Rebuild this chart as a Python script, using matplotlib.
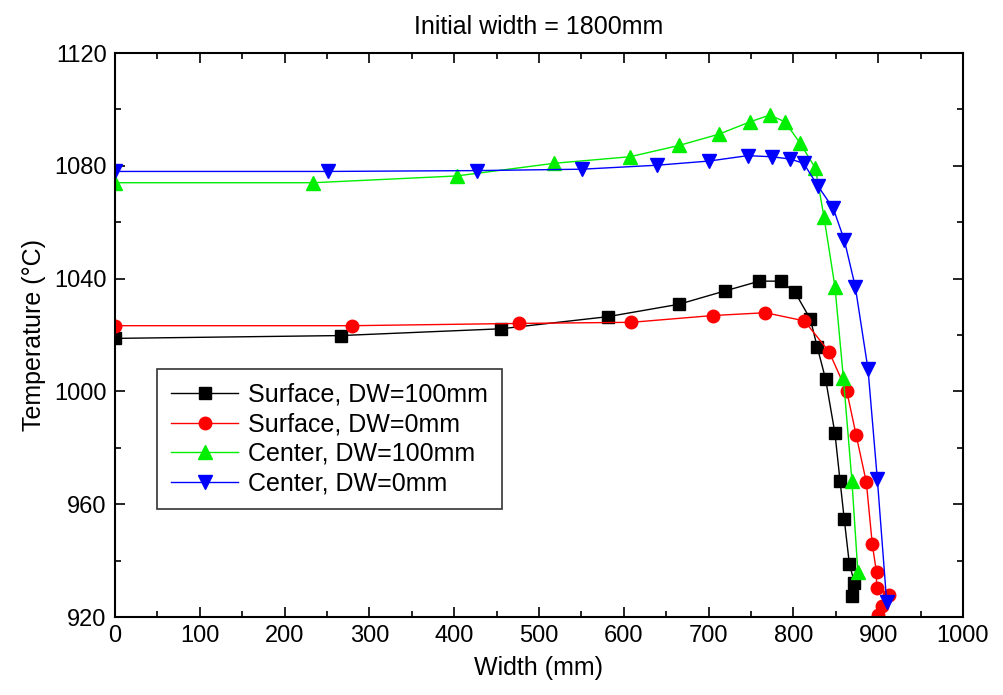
import matplotlib.pyplot as plt
from matplotlib.ticker import MultipleLocator

plt.rcParams['font.family'] = ['Liberation Sans', 'DejaVu Sans']

# Surface, DW=100mm
surf100_x = [0, 266, 455, 581, 665, 719, 760, 785, 802, 820, 828, 838, 849, 855, 860, 866, 872, 869]
surf100_y = [1018.8, 1019.8, 1022.2, 1026.5, 1030.9, 1035.6, 1039.1, 1039.1, 1035.1, 1025.6, 1015.9,
             1004.3, 985.1, 968.3, 954.6, 938.8, 932.2, 927.4]

# Surface, DW=0mm
surf0_x = [0, 280, 476, 609, 705, 767, 813, 842, 863, 874, 886, 893, 898, 898, 913, 905, 900]
surf0_y = [1023.3, 1023.3, 1024.1, 1024.5, 1026.9, 1027.9, 1025.0, 1014.1, 1000.0, 984.5, 967.8,
           945.9, 935.8, 930.4, 927.8, 924.0, 920.7]

# Center, DW=100mm
cent100_x = [0, 234, 403, 518, 607, 665, 712, 749, 772, 790, 808, 826, 836, 849, 859, 869, 876]
cent100_y = [1074.0, 1074.0, 1076.4, 1080.9, 1083.2, 1087.2, 1091.2, 1095.6, 1098.0, 1095.6, 1088.0,
             1079.1, 1062.0, 1037.1, 1004.6, 968.3, 936.0]

# Center, DW=0mm
cent0_x = [0, 251, 427, 551, 639, 701, 746, 775, 796, 812, 829, 847, 860, 873, 888, 899, 910]
cent0_y = [1078.0, 1078.0, 1078.3, 1078.8, 1080.2, 1081.7, 1083.6, 1083.2, 1082.4, 1080.9, 1072.8,
           1064.9, 1053.7, 1037.1, 1007.8, 968.8, 925.4]

fig = plt.figure(figsize=(10.04, 6.95), dpi=100)
ax = fig.add_axes([115 / 1004, 1 - 617 / 695, 848 / 1004, 564 / 695])

lw = 1.0
ms = 9
ax.plot(surf100_x, surf100_y, '-s', color='black', lw=lw, ms=ms - 1, label='Surface, DW=100mm')
ax.plot(surf0_x, surf0_y, '-o', color='#ff0000', lw=lw, ms=ms, label='Surface, DW=0mm')
ax.plot(cent100_x, cent100_y, '-^', color='#00ee00', lw=lw, ms=ms + 1, label='Center, DW=100mm')
ax.plot(cent0_x, cent0_y, '-v', color='#0000ff', lw=lw, ms=ms + 1, label='Center, DW=0mm')

ax.set_xlim(0, 1000)
ax.set_ylim(920, 1120)
ax.xaxis.set_major_locator(MultipleLocator(100))
ax.xaxis.set_minor_locator(MultipleLocator(50))
ax.yaxis.set_major_locator(MultipleLocator(40))
ax.yaxis.set_minor_locator(MultipleLocator(20))
ax.tick_params(which='both', direction='in', top=True, right=True, labelsize=17, width=1.2)
ax.tick_params(which='major', length=7, pad=6)
ax.tick_params(which='minor', length=4)
for s in ax.spines.values():
    s.set_linewidth(1.5)

ax.set_xlabel('Width (mm)', fontsize=18, labelpad=6)
ax.set_ylabel('Temperature (°C)', fontsize=18, labelpad=6)
ax.set_title('Initial width = 1800mm', fontsize=18, pad=14,
             family=['Liberation Sans Narrow', 'Liberation Sans', 'DejaVu Sans'])

leg = ax.legend(loc='upper left', bbox_to_anchor=((157 - 115) / 848, (617 - 369) / 564),
                borderaxespad=0, fontsize=18, frameon=True, fancybox=False, edgecolor='black',
                handlelength=2.7, borderpad=0.55, labelspacing=0.22, handletextpad=0.4)
leg.get_frame().set_linewidth(1.2)

fig.savefig('out.png', dpi=100)
